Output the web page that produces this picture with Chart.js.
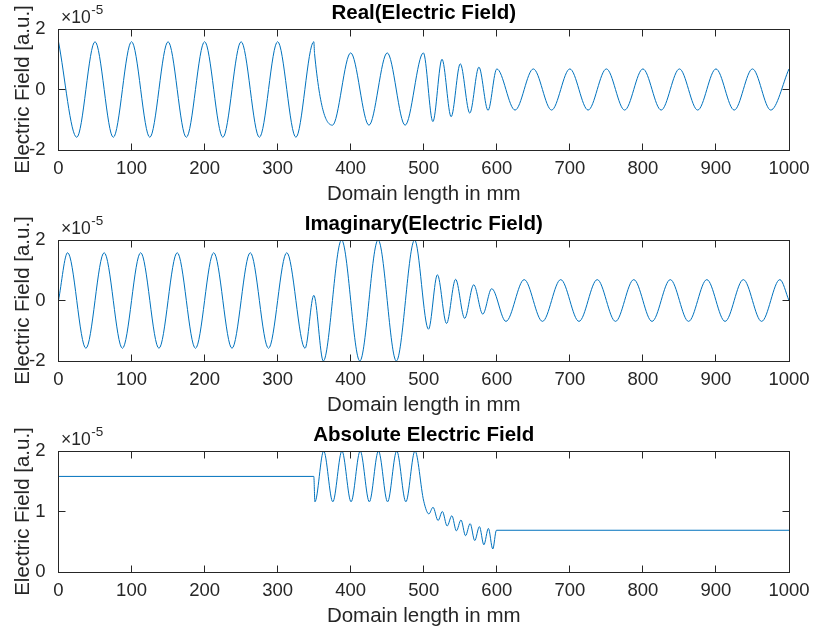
<!DOCTYPE html>
<html>
<head>
<meta charset="utf-8">
<title>Electric Field</title>
<script src="https://cdn.jsdelivr.net/npm/chart.js@4.4.1/dist/chart.umd.min.js"></script>
<style>
  html, body { margin: 0; padding: 0; background: #fff; }
  .panel { position: absolute; left: 0; width: 813px; height: 211px; }
</style>
</head>
<body>
<div class="panel" style="top:0"><canvas id="realChart" width="813" height="211"></canvas></div>
<div class="panel" style="top:211px"><canvas id="imagChart" width="813" height="211"></canvas></div>
<div class="panel" style="top:422px"><canvas id="absChart" width="813" height="211"></canvas></div>
<script>
// values are in units of 1e-5 (see the x10^-5 label on each axis)
// positions along the domain in mm, read at the peaks / troughs / kinks
const realX = [0, 25, 50, 75, 100, 125, 150, 175, 200, 225, 250, 275, 300, 325, 349.5, 350.5,
  375, 400, 425, 450, 474.5, 499.5,
  512.5, 525, 537.5, 550, 563, 575.5, 588, 600,
  625, 650, 675, 700, 725, 750, 775, 800, 825, 850, 875, 900, 925, 950, 975, 1000];
const realY = [1.58, -1.58, 1.58, -1.58, 1.58, -1.58, 1.58, -1.58, 1.58, -1.58, 1.58, -1.58, 1.58, -1.58, 1.58, 1.19,
  -1.18, 1.21, -1.18, 1.21, -1.18, 1.21,
  -1.06, 1.0, -0.9, 0.85, -0.78, 0.74, -0.69, 0.68,
  -0.68, 0.68, -0.68, 0.68, -0.68, 0.68, -0.68, 0.68, -0.68, 0.68, -0.68, 0.68, -0.68, 0.68, -0.68, 0.68];

const imagX = [0, 12.5, 37.5, 62.5, 87.5, 112.5, 137.5, 162.5, 187.5, 212.5, 237.5, 262.5, 287.5, 312.5, 337.5, 349.5,
  362.5, 387.5, 412.5, 437.5, 462.5, 487.5,
  506.5, 518.7, 531.2, 543.6, 556, 568.4, 580.8, 593,
  612.5, 637.5, 662.5, 687.5, 712.5, 737.5, 762.5, 787.5, 812.5, 837.5, 862.5, 887.5, 912.5, 937.5, 962.5, 987.5, 1000];
const imagY = [0, 1.58, -1.58, 1.58, -1.58, 1.58, -1.58, 1.58, -1.58, 1.58, -1.58, 1.58, -1.58, 1.58, -1.58, 0.17,
  -2, 2, -2, 2, -2, 2,
  -0.95, 0.85, -0.76, 0.7, -0.59, 0.52, -0.45, 0.39,
  -0.69, 0.69, -0.69, 0.69, -0.69, 0.69, -0.69, 0.69, -0.69, 0.69, -0.69, 0.69, -0.69, 0.69, -0.69, 0.69, 0];

const absX = [0, 349.5, 351, 363, 375.5, 388, 400.5, 413, 425.5, 438, 450.5, 463, 475.5, 488, 500,
  507, 512.7, 519.6, 525.5, 532, 538.5, 544.7, 551, 557.2, 563.5, 569.8, 576.2, 582.3, 588.5, 594.5, 599.5, 1000];
const absY = [1.58, 1.58, 1.16, 2, 1.16, 2, 1.16, 2, 1.16, 2, 1.16, 2, 1.16, 2, 1.17,
  0.96, 1.07, 0.85, 1.0, 0.76, 0.93, 0.68, 0.86, 0.6, 0.8, 0.52, 0.75, 0.45, 0.72, 0.38, 0.69, 0.69];

const xTicks = [0, 100, 200, 300, 400, 500, 600, 700, 800, 900, 1000];
const yTicksSigned = [-2, 0, 2];
const yTicksAbs = [0, 1, 2];

const FONT = '"Liberation Sans", Arial, Helvetica, sans-serif';
const axisColor = '#262626';
const lineColor = '#0072BD';
const tickLen = 7;

// MATLAB style box, inward ticks on all four sides, title and exponent label
const matlabAxes = {
  id: 'matlabAxes',
  afterDraw(chart, args, opts) {
    const { ctx, chartArea: a, scales: { x, y } } = chart;
    const L = Math.floor(a.left) + 0.5, R = Math.floor(a.right) + 0.5;
    const T = Math.floor(a.top) + 0.5, B = Math.floor(a.bottom) + 0.5;
    ctx.save();
    ctx.strokeStyle = axisColor;
    ctx.lineWidth = 1;
    ctx.beginPath();
    x.ticks.forEach((t) => {
      const px = Math.floor(x.getPixelForValue(t.value)) + 0.5;
      ctx.moveTo(px, B); ctx.lineTo(px, B - tickLen);
      ctx.moveTo(px, T); ctx.lineTo(px, T + tickLen);
    });
    y.ticks.forEach((t) => {
      const py = Math.floor(y.getPixelForValue(t.value)) + 0.5;
      ctx.moveTo(L, py); ctx.lineTo(L + tickLen, py);
      ctx.moveTo(R, py); ctx.lineTo(R - tickLen, py);
    });
    ctx.stroke();
    ctx.strokeRect(L, T, R - L, B - T);

    ctx.fillStyle = '#000';
    ctx.font = 'bold 20.5px ' + FONT;
    ctx.textAlign = 'center';
    ctx.textBaseline = 'middle';
    ctx.fillText(opts.title, (a.left + a.right) / 2, 13);

    ctx.fillStyle = axisColor;
    ctx.textAlign = 'left';
    ctx.textBaseline = 'alphabetic';
    ctx.font = '17.5px ' + FONT;
    ctx.fillText('×10', a.left + 2.5, 22.5);
    const w = ctx.measureText('×10').width;
    ctx.font = '13.5px ' + FONT;
    ctx.fillText('-5', a.left + 3 + w, 14);
    ctx.restore();
  },
};

function makeConfig(xs, ys, title, yTicks) {
  return {
    type: 'line',
    data: {
      datasets: [{
        data: xs.map((v, i) => ({ x: v, y: ys[i] })),
        borderColor: lineColor,
        borderWidth: 1,
        pointRadius: 0,
        fill: false,
        cubicInterpolationMode: 'monotone',
      }],
    },
    options: {
      responsive: false,
      animation: false,
      devicePixelRatio: 1,
      layout: { padding: { left: 0, right: 24, top: 29, bottom: 0 } },
      plugins: {
        legend: { display: false },
        tooltip: { enabled: false },
        matlabAxes: { title },
      },
      scales: {
        x: {
          type: 'linear',
          min: 0,
          max: 1000,
          afterBuildTicks: (s) => { s.ticks = xTicks.map((v) => ({ value: v })); },
          afterFit: (s) => { s.height = 61; },
          grid: { display: false },
          border: { display: false },
          ticks: {
            autoSkip: false,
            maxRotation: 0,
            padding: -0.5,
            color: axisColor,
            font: { family: FONT, size: 18.5 },
            callback: (v) => String(v),
          },
          title: {
            display: true,
            text: 'Domain length in mm',
            color: axisColor,
            font: { family: FONT, size: 20.5 },
            padding: { top: 0, bottom: 4 },
          },
        },
        y: {
          type: 'linear',
          min: yTicks[0],
          max: yTicks[yTicks.length - 1],
          afterBuildTicks: (s) => { s.ticks = yTicks.map((v) => ({ value: v })); },
          afterFit: (s) => { s.width = 58.5; },
          grid: { display: false },
          border: { display: false },
          ticks: {
            padding: 5,
            color: axisColor,
            font: { family: FONT, size: 18.5 },
            callback: (v) => String(v),
          },
          title: {
            display: true,
            text: 'Electric Field [a.u.]',
            color: axisColor,
            font: { family: FONT, size: 20.5 },
            padding: { top: 11, bottom: 0 },
          },
        },
      },
    },
    plugins: [matlabAxes],
  };
}

new Chart(document.getElementById('realChart'), makeConfig(realX, realY, 'Real(Electric Field)', yTicksSigned));
new Chart(document.getElementById('imagChart'), makeConfig(imagX, imagY, 'Imaginary(Electric Field)', yTicksSigned));
new Chart(document.getElementById('absChart'), makeConfig(absX, absY, 'Absolute Electric Field', yTicksAbs));
</script>
</body>
</html>
